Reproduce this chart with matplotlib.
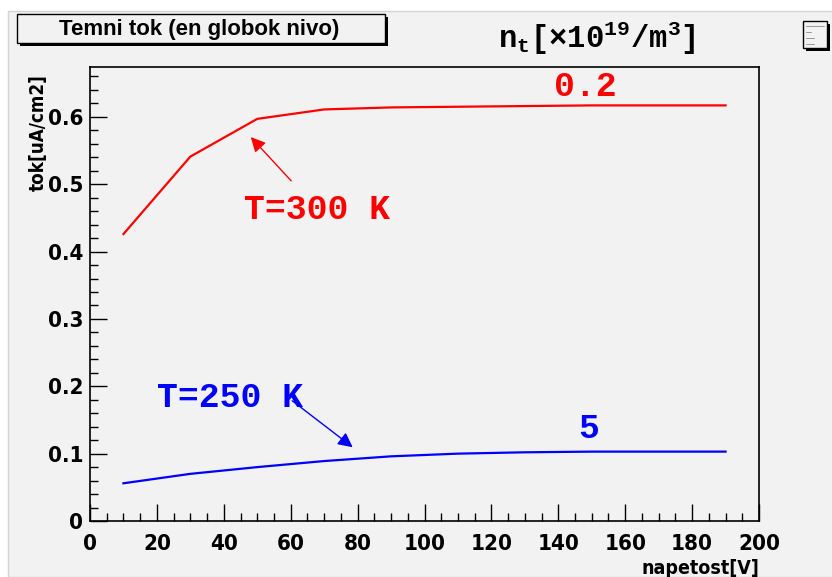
import numpy as np
import matplotlib.pyplot as plt
from matplotlib.patches import Rectangle
from matplotlib.ticker import MultipleLocator

# data
napetost = [10, 30, 50, 70, 90, 110, 130, 150, 170, 190]
tok_300K = [0.426, 0.541, 0.597, 0.611, 0.614, 0.615, 0.616, 0.617, 0.617, 0.617]
tok_250K = [0.056, 0.070, 0.080, 0.089, 0.096, 0.100, 0.102, 0.103, 0.103, 0.103]

plt.rcParams['mathtext.fontset'] = 'custom'
plt.rcParams['mathtext.rm'] = 'Liberation Mono:bold'
plt.rcParams['mathtext.it'] = 'Liberation Mono:bold'

cond = dict(fontfamily='DejaVu Sans', fontstretch='condensed', fontweight='bold')
mono = ['Liberation Mono']
bg = '#f2f2f2'

fig = plt.figure(figsize=(8.32, 5.77), dpi=100, facecolor='white')
fig.patches.append(Rectangle((8 / 832, 0), 1, 1 - 11 / 577, transform=fig.transFigure,
                             facecolor=bg, edgecolor='#d4d4d4', lw=1, zorder=0))

ax = fig.add_axes([90 / 832, 1 - 521 / 577, 669 / 832, 454 / 577])
ax.set_zorder(5)
ax.set_facecolor(bg)

ax.plot(napetost, tok_300K, color='red', lw=1.6)
ax.plot(napetost, tok_250K, color='blue', lw=1.6)

ax.set_xlim(0, 200)
ax.set_ylim(0, 0.674)
ax.xaxis.set_major_locator(MultipleLocator(20))
ax.xaxis.set_minor_locator(MultipleLocator(5))
ax.yaxis.set_minor_locator(MultipleLocator(0.02))
ax.tick_params(which='both', direction='in', top=False, right=False, width=1)
ax.tick_params(which='major', length=12)
ax.tick_params(which='minor', length=6)
ax.tick_params(axis='x', pad=9)
ax.tick_params(axis='y', pad=5)
ax.set_xticks(np.arange(0, 201, 20))
ax.set_xticklabels([str(v) for v in range(0, 201, 20)], fontsize=16, **cond)
ax.set_yticks(np.arange(0, 0.65, 0.1))
ax.set_yticklabels(['0', '0.1', '0.2', '0.3', '0.4', '0.5', '0.6'], fontsize=16, **cond)
for s in ax.spines.values():
    s.set_linewidth(1.2)

ax.set_xlabel('napetost[V]', fontsize=14, loc='right', **cond)
ax.xaxis.set_label_coords(1.0, -0.084)
ax.set_ylabel('tok[uA/cm2]', fontsize=13.5, loc='top', **cond)
ax.yaxis.set_label_coords(-0.063, 0.985)

# annotations
ax.text(148, 0.645, '0.2', color='red', fontfamily=mono, fontweight='bold',
        fontsize=25, ha='center', va='center')
ax.text(149, 0.138, '5', color='blue', fontfamily=mono, fontweight='bold',
        fontsize=25, ha='center', va='center')
ax.text(68, 0.462, 'T=300 K', color='red', fontfamily=mono, fontweight='bold',
        fontsize=25, ha='center', va='center')
ax.text(42, 0.184, 'T=250 K', color='blue', fontfamily=mono, fontweight='bold',
        fontsize=25, ha='center', va='center')
ax.annotate('', xy=(47.5, 0.573), xytext=(60.7, 0.502),
            arrowprops=dict(arrowstyle='-|>', color='red', lw=1, mutation_scale=22))
ax.annotate('', xy=(79.2, 0.107), xytext=(59.8, 0.181),
            arrowprops=dict(arrowstyle='-|>', color='blue', lw=1, mutation_scale=22))

# title box
fig.patches.append(Rectangle((20 / 832, 1 - 46 / 577), 368 / 832, 29 / 577,
                             transform=fig.transFigure, facecolor='black', zorder=1))
fig.patches.append(Rectangle((17 / 832, 1 - 43 / 577), 368 / 832, 29 / 577,
                             transform=fig.transFigure, facecolor=bg, edgecolor='black',
                             lw=1, zorder=2))
fig.text(199 / 832, 1 - 29 / 577, 'Temni tok (en globok nivo)', fontfamily=['Liberation Sans'],
         fontweight='bold', fontsize=16, ha='center', va='center', zorder=3)

fig.text(597 / 832, 1 - 38 / 577, r'$\mathrm{n_{t}[\times 10^{19}/m^{3}]}$',
         fontsize=22, ha='center', va='center')

# small legend icon at top right
fig.patches.append(Rectangle((806 / 832, 1 - 51 / 577), 24 / 832, 27 / 577,
                             transform=fig.transFigure, facecolor='black', zorder=1))
fig.patches.append(Rectangle((803 / 832, 1 - 48 / 577), 24 / 832, 27 / 577,
                             transform=fig.transFigure, facecolor=bg, edgecolor='black',
                             lw=1, zorder=2))
for yy, ww in [(26, 18), (32, 5), (38, 8), (44, 8)]:
    fig.lines.append(plt.Line2D([806 / 832, (806 + ww) / 832], [1 - yy / 577, 1 - yy / 577],
                                transform=fig.transFigure, color='#555555', lw=0.4, zorder=3))

fig.savefig('out.png', dpi=100, facecolor=fig.get_facecolor())
